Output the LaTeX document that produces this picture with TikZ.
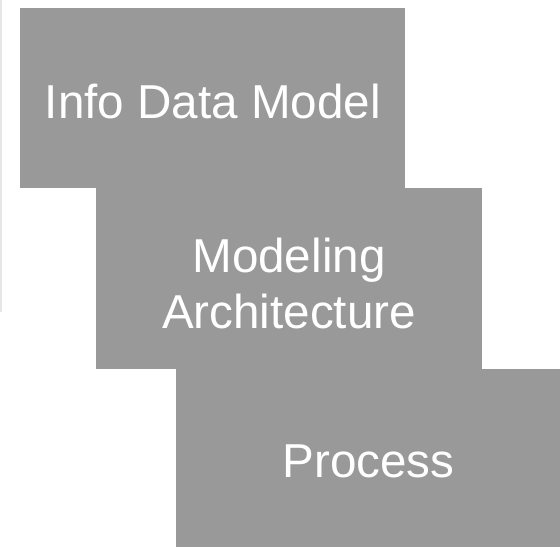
\documentclass[tikz,border=0pt]{standalone}
\usepackage{fontspec}
\setmainfont{Liberation Sans}
\definecolor{stepgray}{HTML}{999999}
\definecolor{edgeshade}{HTML}{E6E6E6}
\begin{document}
\begin{tikzpicture}[x=1pt,y=-1pt,
  stepbox/.style={fill=stepgray, draw=none},
  steplabel/.style={text=white, align=center, font=\fontsize{47.6}{56}\selectfont, inner sep=0pt}]
  \useasboundingbox (0,0) rectangle (560,547);
  \fill[white] (0,0) rectangle (560,547);
  % faint edge shadow on the left margin
  \draw[edgeshade, line width=2pt] (1,0) -- (1,312);
  % staircase of boxes
  \path[stepbox] (20,8) rectangle (405,188);
  \path[stepbox] (96,188) rectangle (482,369);
  \path[stepbox] (176,369) rectangle (560,547);
  \node[steplabel] (info) at (213,101) {Info Data Model};
  \node[steplabel] (arch) at (289,283) {Modeling\\Architecture};
  \node[steplabel] (proc) at (368.5,461) {Process};
\end{tikzpicture}
\end{document}
